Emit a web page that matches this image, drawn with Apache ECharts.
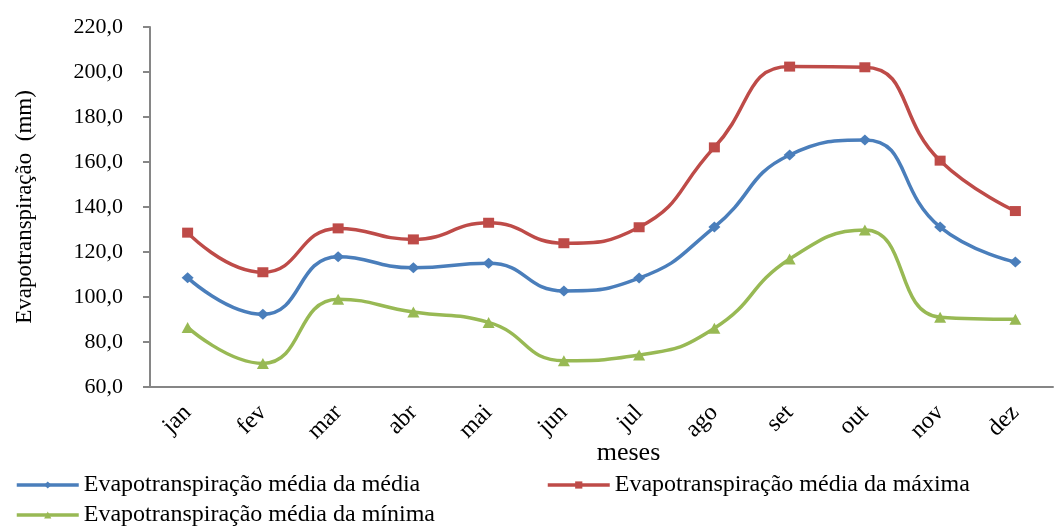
<!DOCTYPE html>
<html>
<head>
<meta charset="utf-8">
<script src="https://cdn.jsdelivr.net/npm/echarts@6/dist/echarts.min.js"></script>
<style>
  html, body { margin: 0; padding: 0; background: #fff; }
  #chart { width: 1062px; height: 527px; }
</style>
</head>
<body>
<div id="chart"></div>
<script>
// dados
var meses = ['jan', 'fev', 'mar', 'abr', 'mai', 'jun', 'jul', 'ago', 'set', 'out', 'nov', 'dez'];
var mediaMedia = [108.6, 92.3, 117.9, 113.0, 115.0, 102.7, 108.4, 131.1, 163.1, 169.8, 131.1, 115.6];
var mediaMaxima = [128.6, 111.0, 130.5, 125.6, 133.0, 123.9, 131.0, 166.5, 202.4, 202.1, 160.6, 138.2];
var mediaMinima = [86.5, 70.5, 99.0, 93.3, 88.7, 71.7, 74.2, 86.1, 116.9, 129.8, 91.0, 90.1];
var yTicks = { min: 60, max: 220, step: 20 };

var serif = '"Liberation Serif", "Times New Roman", serif';
var nomes = [
  'Evapotranspiração média da média',
  'Evapotranspiração média da máxima',
  'Evapotranspiração média da mínima'
];

var myChart = echarts.init(document.getElementById('chart'));

function legenda(nome, left, top) {
  return {
    data: [nome],
    left: left,
    top: top,
    padding: 0,
    itemWidth: 62,
    itemHeight: 9,
    itemGap: 0,
    lineStyle: { width: 3.5 },
    textStyle: { fontFamily: serif, fontSize: 24, color: '#000' }
  };
}

var option = {
  animation: false,
  textStyle: { fontFamily: serif },
  grid: { left: 150, right: 9, top: 27, bottom: 140 },
  legend: [
    legenda(nomes[0], 15, 473),
    legenda(nomes[1], 546, 473),
    legenda(nomes[2], 15, 503)
  ],
  xAxis: {
    type: 'category',
    data: meses,
    name: 'meses',
    nameLocation: 'middle',
    nameGap: 53,
    nameMoveOverlap: false,
    nameTextStyle: { fontFamily: serif, fontSize: 26, color: '#000', padding: [0, 0, 0, 54] },
    axisLine: { lineStyle: { color: '#868686', width: 2 } },
    axisTick: { show: false },
    axisLabel: { rotate: 45, margin: 22, fontFamily: serif, fontSize: 24, color: '#000' }
  },
  yAxis: {
    type: 'value',
    min: yTicks.min,
    max: yTicks.max,
    interval: yTicks.step,
    name: 'Evapotranspiração  (mm)',
    nameLocation: 'middle',
    nameGap: 114,
    nameRotate: 90,
    nameMoveOverlap: false,
    nameTextStyle: { fontFamily: serif, fontSize: 23, color: '#000' },
    axisLine: { show: true, lineStyle: { color: '#868686', width: 2 } },
    axisTick: { show: true, length: 7, lineStyle: { color: '#868686', width: 2 } },
    splitLine: { show: false },
    axisLabel: {
      margin: 27,
      fontFamily: serif,
      fontSize: 22,
      color: '#000',
      formatter: function (v) { return v.toFixed(1).replace('.', ','); }
    }
  },
  series: [
    {
      name: nomes[0], type: 'line', smooth: true, data: mediaMedia,
      symbol: 'diamond', symbolSize: [12, 11],
      itemStyle: { color: '#4A7EBB' }, lineStyle: { width: 3.5 }
    },
    {
      name: nomes[1], type: 'line', smooth: true, data: mediaMaxima,
      symbol: 'rect', symbolSize: [11, 10],
      itemStyle: { color: '#BE4B48' }, lineStyle: { width: 3.5 }
    },
    {
      name: nomes[2], type: 'line', smooth: true, data: mediaMinima,
      symbol: 'triangle', symbolSize: [12, 11],
      itemStyle: { color: '#98B954' }, lineStyle: { width: 3.5 }
    }
  ]
};

myChart.setOption(option);
window.addEventListener('resize', function () { myChart.resize(); });
</script>
</body>
</html>
